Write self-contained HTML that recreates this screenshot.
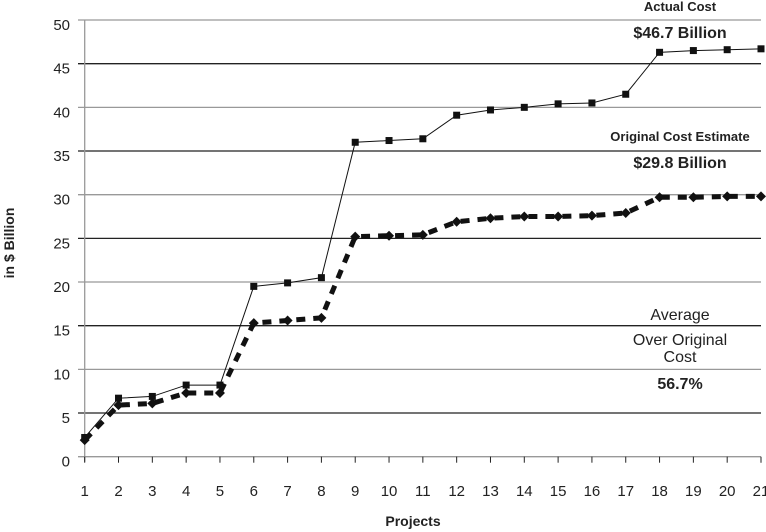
<!DOCTYPE html>
<html><head><meta charset="utf-8"><style>
body{margin:0;background:#fff}
svg{display:block;font-family:"Liberation Sans",sans-serif}
</style></head><body>
<svg id="chart" width="766" height="532" viewBox="0 0 766 532">
<g id="grid"></g><g id="axes"></g><g id="series"></g>
<text transform="translate(14,243) rotate(-90)" text-anchor="middle" font-size="14" font-weight="bold" fill="#222">in $ Billion</text>
<text x="413" y="526" text-anchor="middle" font-size="14" font-weight="bold" fill="#222">Projects</text>
<g text-anchor="middle" fill="#222">
<text x="680" y="11" font-size="13" font-weight="bold">Actual Cost</text>
<text x="680" y="38" font-size="16" font-weight="bold">$46.7 Billion</text>
<text x="680" y="141" font-size="13" font-weight="bold">Original Cost Estimate</text>
<text x="680" y="168" font-size="16" font-weight="bold">$29.8 Billion</text>
<text x="680" y="320" font-size="16">Average</text>
<text x="680" y="345" font-size="16">Over Original</text>
<text x="680" y="362" font-size="16">Cost</text>
<text x="680" y="389" font-size="16" font-weight="bold">56.7%</text>
</g>
</svg>
<script>
const categories=[1,2,3,4,5,6,7,8,9,10,11,12,13,14,15,16,17,18,19,20,21];
const actualCost=[2.2,6.7,6.9,8.2,8.2,19.5,19.9,20.5,36,36.2,36.4,39.1,39.7,40,40.4,40.5,41.5,46.3,46.5,46.6,46.7];
const originalEstimate=[1.9,5.9,6.1,7.3,7.3,15.3,15.6,15.9,25.2,25.3,25.4,26.9,27.3,27.5,27.5,27.6,27.9,29.7,29.7,29.8,29.8];
const yTicks=[0,5,10,15,20,25,30,35,40,45,50];
const NS="http://www.w3.org/2000/svg";
const x0=84.7,x1=761,y0=456.7,y1=20;
function xs(c){return x0+(c-categories[0])*(x1-x0)/(categories[categories.length-1]-categories[0]);}
function ys(v){return y0-(v-0)*(y0-y1)/50;}
function mk(tag,attrs,parent){const e=document.createElementNS(NS,tag);for(const k in attrs)e.setAttribute(k,attrs[k]);parent.appendChild(e);return e;}
const grid=document.getElementById('grid'),axes=document.getElementById('axes'),ser=document.getElementById('series');
yTicks.forEach((t,i)=>{
 const l=mk('line',{x1:78,x2:761,y1:ys(t),y2:ys(t),stroke:i%2?'#222':'#999','stroke-width':1.3},grid);
 
 
 const tx=mk('text',{x:70,y:ys(t)+10,'text-anchor':'end','font-size':15,fill:'#222'},axes);
 tx.textContent=t;
 
 
});
const ax=mk('line',{x1:x0,x2:x0,y1:y1,y2:y0+5,stroke:'#999','stroke-width':1.3},axes);


categories.forEach(c=>{
 const tk=mk('line',{x1:xs(c),x2:xs(c),y1:y0,y2:y0+6,stroke:'#222','stroke-width':1},axes);
 
 
 const tx=mk('text',{x:xs(c),y:496,'text-anchor':'middle','font-size':15,fill:'#222'},axes);
 tx.textContent=c;
 
 
});
const estPts=categories.map((c,i)=>xs(c)+','+ys(originalEstimate[i])).join(' ');
const el=mk('polyline',{points:estPts,fill:'none',stroke:'#111','stroke-width':5,'stroke-dasharray':'9 8'},ser);


categories.forEach((c,i)=>{
 const x=xs(c),y=ys(originalEstimate[i]);
 const d=mk('polygon',{points:`${x},${y-5} ${x+5},${y} ${x},${y+5} ${x-5},${y}`,fill:'#111'},ser);
 
 
});
const actPts=categories.map((c,i)=>xs(c)+','+ys(actualCost[i])).join(' ');
const al=mk('polyline',{points:actPts,fill:'none',stroke:'#111','stroke-width':1},ser);


categories.forEach((c,i)=>{
 const r=mk('rect',{x:xs(c)-3.5,y:ys(actualCost[i])-3.5,width:7,height:7,fill:'#111'},ser);
 
 
});
</script>
</body></html>
